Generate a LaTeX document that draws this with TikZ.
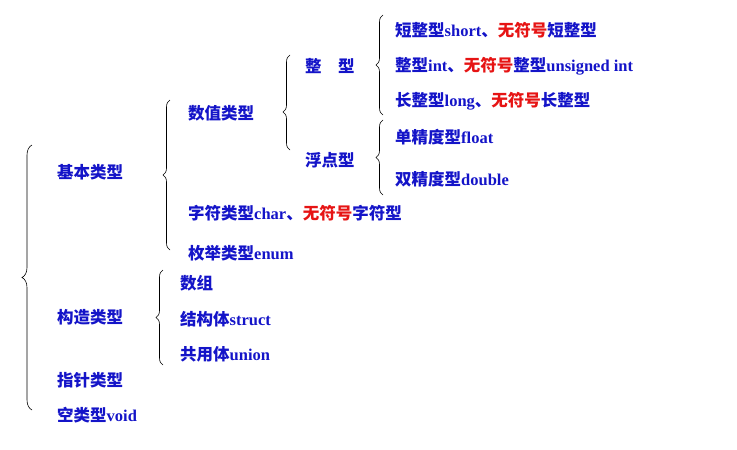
\documentclass[tikz,border=0pt]{standalone}
\usepackage{fontspec}
\setmainfont{Liberation Serif}[BoldFont=Liberation Serif Bold]
\newfontfamily\cjk{Noto Sans CJK SC Bold}
\usetikzlibrary{decorations.pathreplacing}
\definecolor{tblue}{RGB}{20,20,200}
\definecolor{tred}{RGB}{230,20,20}
\tikzset{
  lbl/.style={anchor=west,inner sep=0pt,text=tblue,font=\fontsize{16.5}{18}\selectfont\bfseries},
  brc/.style={decorate,decoration={brace,amplitude=7pt},semithick},
}
\newcommand{\zh}[1]{{\cjk #1}}
\newcommand{\red}[1]{\textcolor{tred}{\zh{#1}}}
\begin{document}
\begin{tikzpicture}[x=1pt,y=-1pt]
\useasboundingbox (0,0) rectangle (737,450);
% first level
\node[lbl] (basic) at (57,172) {\zh{基本类型}};
\node[lbl] (build) at (57,317) {\zh{构造类型}};
\node[lbl] (ptr) at (57,380) {\zh{指针类型}};
\node[lbl] (void) at (57,415) {\zh{空类型}void};
\draw[brc,decoration={amplitude=10pt}] (32,410) -- (32,145);

% basic types
\node[lbl] (num) at (188,113) {\zh{数值类型}};
\node[lbl] (chr) at (188,213) {\zh{字符类型}char\zh{、}\red{无符号}\zh{字符型}};
\node[lbl] (enum) at (188,253) {\zh{枚举类型}enum};
\draw[brc] (170,250) -- (170,100);

% constructed types
\node[lbl] (arr) at (180,283) {\zh{数组}};
\node[lbl] (stru) at (180,319) {\zh{结构体}struct};
\node[lbl] (uni) at (180,354) {\zh{共用体}union};
\draw[brc] (163,365) -- (163,270);

% numeric types
\node[lbl] (int) at (305,66) {\zh{整\hspace{1em}型}};
\node[lbl] (flt) at (305,160) {\zh{浮点型}};
\draw[brc,decoration={aspect=0.4}] (290,150) -- (290,55);

% integer types
\node[lbl] (short) at (395,30) {\zh{短整型}short\zh{、}\red{无符号}\zh{短整型}};
\node[lbl] (sint) at (395,66) {\zh{整型}int\zh{、}\red{无符号}\zh{整型}unsigned int};
\node[lbl] (long) at (395,101) {\zh{长整型}long\zh{、}\red{无符号}\zh{长整型}};
\draw[brc] (383,115) -- (383,15);

% floating types
\node[lbl] (single) at (395,137) {\zh{单精度型}float};
\node[lbl] (double) at (395,179) {\zh{双精度型}double};
\draw[brc] (383,195) -- (383,120);
\end{tikzpicture}
\end{document}
